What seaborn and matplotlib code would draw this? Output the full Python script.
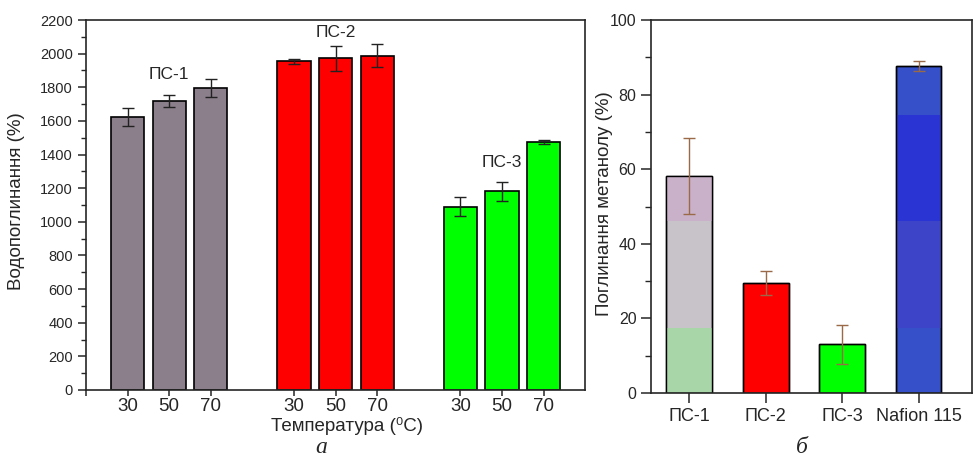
import numpy as np
import pandas as pd
import seaborn as sns
import matplotlib.pyplot as plt
from matplotlib.ticker import MultipleLocator

# --- data: water uptake (left panel)
samples = ["ПС-1", "ПС-2", "ПС-3"]
temps = ["30", "50", "70"]
water_uptake = [1622, 1718, 1797,
                1955, 1972, 1988,
                1090, 1181, 1472]
water_err = [53, 37, 52,
             16, 74, 69,
             55, 58, 12]

# --- data: methanol uptake (right panel)
membranes = ["ПС-1", "ПС-2", "ПС-3", "Nafion 115"]
methanol_uptake = [58.2, 29.5, 13.1, 87.6]
methanol_err = [10.1, 3.1, 5.2, 1.3]

left_colors = ["#8b7f8b", "#ff0000", "#00ff00"]
right_colors = ["#c8c3c8", "#ff0000", "#00ff00", "#3550c8"]

sns.set_style("ticks")
plt.rcParams["font.family"] = ["Liberation Sans", "DejaVu Sans"]
plt.rcParams["axes.linewidth"] = 1.2


def main():
    fig = plt.figure(figsize=(9.77, 4.58), dpi=100)
    ax1 = fig.add_axes([0.088, 0.1485, 0.511, 0.8078])
    ax2 = fig.add_axes([0.6663, 0.1419, 0.3286, 0.8144])

    # left panel: groups of three bars separated by one empty slot
    pos = [g * 4 + i + 1 for g in range(len(samples)) for i in range(len(temps))]
    df = pd.DataFrame({
        "pos": pos,
        "val": water_uptake,
        "err": water_err,
        "sample": [s for s in samples for _ in temps],
    })
    sns.barplot(data=df, x="pos", y="val", hue="sample", palette=left_colors,
                native_scale=True, dodge=False, errorbar=None, legend=False,
                saturation=1, edgecolor="black", linewidth=1.2, width=0.8, ax=ax1)
    ax1.errorbar(df["pos"], df["val"], yerr=df["err"], fmt="none",
                 ecolor="#222222", elinewidth=1.0, capsize=4, capthick=1.0)

    ax1.set_xlim(0, 12)
    ax1.set_ylim(0, 2200)
    ax1.set_xticks([0] + pos)
    ax1.set_xticklabels([""] + temps * len(samples), fontsize=13.5)
    ax1.yaxis.set_major_locator(MultipleLocator(200))
    ax1.yaxis.set_minor_locator(MultipleLocator(100))
    ax1.tick_params(axis="y", labelsize=10.5, length=6, width=1.1)
    ax1.tick_params(axis="y", which="minor", length=3.5, width=1.0)
    ax1.tick_params(axis="x", length=4, width=1.1, pad=2)
    ax1.set_xlabel("Температура (⁰C)", fontsize=13.5)
    ax1.xaxis.set_label_coords(0.523, -0.074)
    ax1.set_ylabel("Водопоглинання (%)", fontsize=13.5)
    ax1.yaxis.set_label_coords(-0.122, 0.51)

    label_y = [1875, 2125, 1350]
    for g, name in enumerate(samples):
        ax1.text(g * 4 + 2, label_y[g], name, ha="center", va="center", fontsize=12.5)

    # right panel: methanol uptake
    sns.barplot(x=membranes, y=methanol_uptake, hue=membranes, palette=right_colors,
                errorbar=None, legend=False, saturation=1, edgecolor="black",
                linewidth=1.0, width=0.6, ax=ax2)
    ax2.errorbar(range(len(membranes)), methanol_uptake, yerr=methanol_err, fmt="none",
                 ecolor="#9a6a48", elinewidth=1.0, capsize=4, capthick=1.0)

    # colour banding seen in the scanned bars
    bands = {0: [(0, 17.5, "#a8d6a8"), (46, 100, "#c9b1c9")],
             3: [(17.5, 46, "#3e44c8"), (46, 74.5, "#2a34d2")]}
    bars = list(ax2.patches[:len(membranes)])
    for idx, spans in bands.items():
        patch = bars[idx]
        for lo, hi, c in spans:
            span = ax2.axhspan(lo, hi, color=c, zorder=patch.get_zorder() + 0.1, lw=0)
            span.set_clip_path(patch)
    # redraw outlines over the bands
    for patch in bars:
        ax2.add_patch(plt.Rectangle((patch.get_x(), 0), patch.get_width(), patch.get_height(),
                                    fill=False, edgecolor="black", lw=1.0,
                                    zorder=patch.get_zorder() + 0.2))

    ax2.set_xlim(-0.5, 3.7)
    ax2.set_ylim(0, 100)
    ax2.yaxis.set_major_locator(MultipleLocator(20))
    ax2.yaxis.set_minor_locator(MultipleLocator(10))
    ax2.tick_params(axis="y", labelsize=11.5, length=7, width=1.1)
    ax2.tick_params(axis="y", which="minor", length=4, width=1.0)
    ax2.tick_params(axis="x", labelsize=13, length=7, width=1.1, pad=4)
    ax2.set_xlabel("")
    ax2.set_ylabel("Поглинання метанолу (%)", fontsize=13.5)
    ax2.yaxis.set_label_coords(-0.118, 0.507)

    fig.text(0.3286, 0.022, "а", family="Liberation Serif", style="italic",
             fontsize=17, ha="center", va="center")
    fig.text(0.821, 0.022, "б", family="Liberation Serif", style="italic",
             fontsize=17, ha="center", va="center")

    fig.savefig("out.png", dpi=100)
    plt.close("all")


if __name__ == "__main__":
    main()
